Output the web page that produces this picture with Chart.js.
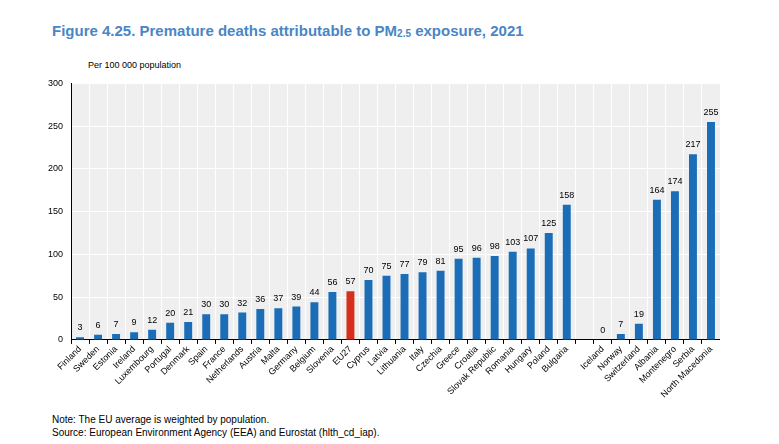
<!DOCTYPE html>
<html>
<head>
<meta charset="utf-8">
<script src="https://cdn.jsdelivr.net/npm/chart.js@4"></script>
<style>
  body { margin: 0; background: #fff; font-family: "Liberation Sans", Arial, sans-serif; }
  #title { position: absolute; left: 52px; top: 22px; color: #4a86c5; font-weight: bold; font-size: 15px; font-family: "Liberation Sans Narrow", "Liberation Sans", sans-serif; }
  #title sub { font-size: 10px; vertical-align: -1px; }
  #unit { position: absolute; left: 88px; top: 60px; font-size: 9px; color: #000; }
  #wrap { position: absolute; left: 40px; top: 70px; width: 680px; height: 330px; }
  #notes { position: absolute; left: 52px; top: 413px; font-size: 10px; line-height: 13px; }
</style>
</head>
<body>
<div id="title">Figure 4.25. Premature deaths attributable to PM<sub>2.5</sub> exposure, 2021</div>
<div id="unit">Per 100 000 population</div>
<div id="wrap"><canvas id="pm25"></canvas></div>
<div id="notes">Note: The EU average is weighted by population.<br>Source: European Environment Agency (EEA) and Eurostat (hlth_cd_iap).</div>
<script>
  // Country values, per 100 000 population ('' is the gap before non-EU countries)
  const rows = [
    ['Finland', 3], ['Sweden', 6], ['Estonia', 7], ['Ireland', 9], ['Luxembourg', 12],
    ['Portugal', 20], ['Denmark', 21], ['Spain', 30], ['France', 30], ['Netherlands', 32],
    ['Austria', 36], ['Malta', 37], ['Germany', 39], ['Belgium', 44], ['Slovenia', 56],
    ['EU27', 57], ['Cyprus', 70], ['Latvia', 75], ['Lithuania', 77], ['Italy', 79],
    ['Czechia', 81], ['Greece', 95], ['Croatia', 96], ['Slovak Republic', 98], ['Romania', 103],
    ['Hungary', 107], ['Poland', 125], ['Bulgaria', 158], ['', null],
    ['Iceland', 0], ['Norway', 7], ['Switzerland', 19], ['Albania', 164],
    ['Montenegro', 174], ['Serbia', 217], ['North Macedonia', 255]
  ];
  const labels = rows.map(r => r[0]);
  const values = rows.map(r => r[1]);
  const colors = labels.map(l => l === 'EU27' ? '#d6301c' : '#1a6db6');

  // grey plot background + value labels above bars
  const decor = {
    id: 'decor',
    beforeDraw(chart) {
      const a = chart.chartArea, c = chart.ctx;
      c.save();
      c.fillStyle = '#efefef';
      c.fillRect(a.left, a.top, a.right - a.left, a.bottom - a.top);
      c.restore();
    },
    afterDatasetsDraw(chart) {
      const c = chart.ctx;
      c.save();
      c.font = '9px "Liberation Sans", Arial, sans-serif';
      c.fillStyle = '#000';
      c.textAlign = 'center';
      chart.getDatasetMeta(0).data.forEach((bar, i) => {
        if (values[i] === null) return;
        c.fillText(values[i], bar.x, bar.y - 7);
      });
      c.restore();
    }
  };

  new Chart(document.getElementById('pm25'), {
    type: 'bar',
    data: { labels: labels, datasets: [{ data: values, backgroundColor: colors, barPercentage: 0.8, categoryPercentage: 0.55 }] },
    options: {
      responsive: true,
      maintainAspectRatio: false,
      animation: false,
      plugins: { legend: { display: false }, tooltip: { enabled: false } },
      layout: { padding: { top: 5 } },
      scales: {
        x: {
          grid: { color: '#fff', lineWidth: 1, offset: true, drawTicks: true, tickColor: '#000', tickLength: 4 },
          border: { color: '#000' },
          ticks: { color: '#000', font: { size: 9, family: '"Liberation Sans", Arial' }, maxRotation: 45, minRotation: 45, autoSkip: false, padding: 0 }
        },
        y: {
          min: 0, max: 300,
          ticks: { stepSize: 50, color: '#000', font: { size: 9, family: '"Liberation Sans", Arial' }, padding: 8 },
          grid: { color: '#fff', drawTicks: false },
          border: { color: '#000' }
        }
      }
    },
    plugins: [decor]
  });
</script>
</body>
</html>
